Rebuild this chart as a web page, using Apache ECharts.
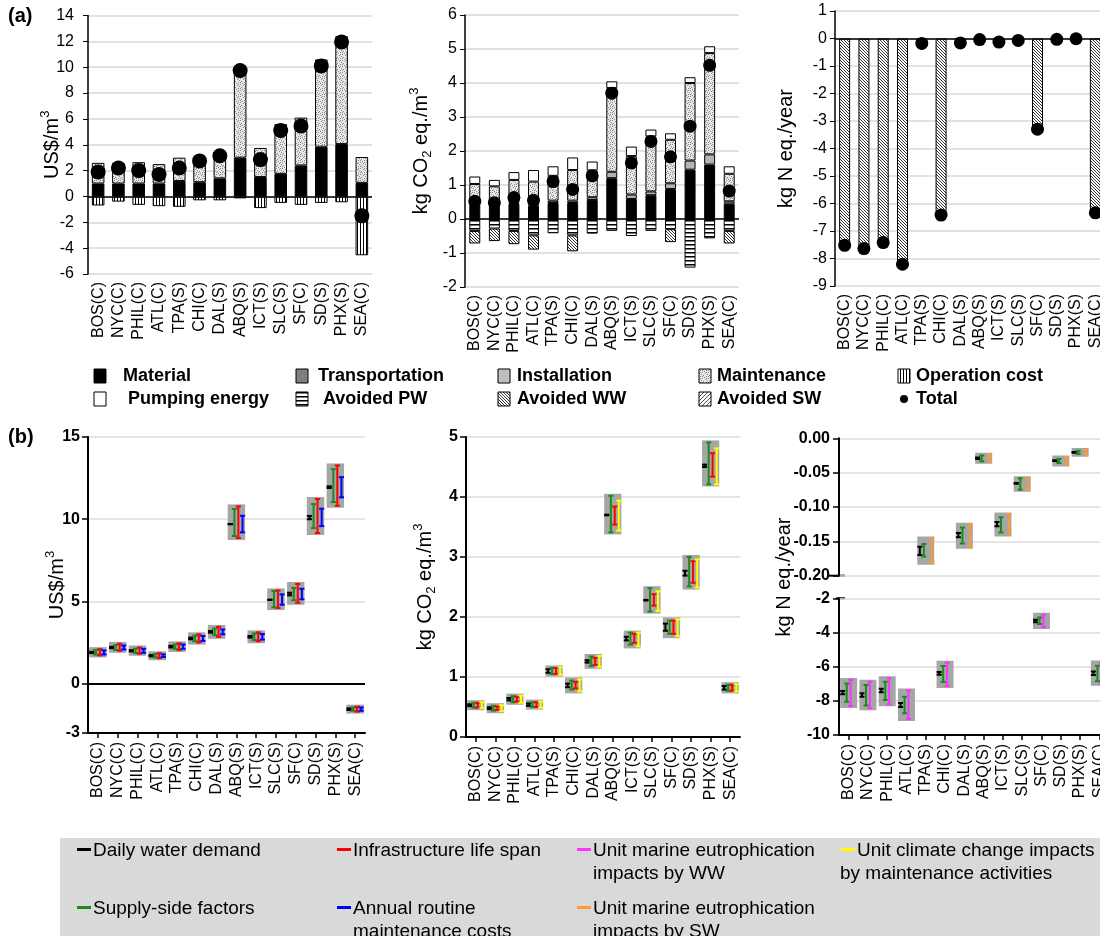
<!DOCTYPE html>
<html><head><meta charset="utf-8">
<script src="https://cdn.jsdelivr.net/npm/echarts@6/dist/echarts.min.js"></script>
<style>html,body{margin:0;padding:0;background:#fff}#c{width:1100px;height:936px}</style>
</head><body><div id="c"></div>
<script>
const cities = ['BOS(C)','NYC(C)','PHIL(C)','ATL(C)','TPA(S)','CHI(C)','DAL(S)','ABQ(S)','ICT(S)','SLC(S)','SF(C)','SD(S)','PHX(S)','SEA(C)'];

// (a) cost, US$/m3
const costMaterial    = [1.0,1.0,1.0,1.0,1.2,1.1,1.4,3.0,1.5,1.75,2.4,3.85,4.05,1.05];
const costMaintenance = [1.6,1.6,1.65,1.5,1.8,1.95,2.05,6.95,2.25,3.85,3.7,6.75,8.35,2.0];
const costOperation   = [-0.7,-0.4,-0.65,-0.75,-0.8,-0.3,-0.3,-0.15,-0.9,-0.5,-0.65,-0.5,-0.45,-4.55];
const costTotal       = [1.9,2.2,2.0,1.7,2.2,2.75,3.15,9.75,2.85,5.1,5.45,10.1,11.95,-1.5];

// (a) climate change, kg CO2 eq./m3
const ghgMaterial     = [0.42,0.4,0.44,0.4,0.47,0.47,0.56,1.2,0.59,0.7,0.88,1.45,1.6,0.45];
const ghgInstallation = [0.05,0.05,0.05,0.05,0.07,0.07,0.08,0.19,0.13,0.11,0.17,0.27,0.3,0.07];
const ghgMaintenance  = [0.56,0.51,0.66,0.65,0.73,0.9,0.79,2.46,1.13,1.62,1.28,2.28,2.98,0.81];
const ghgPumping      = [0.22,0.19,0.23,0.34,0.28,0.37,0.26,0.2,0.28,0.2,0.19,0.17,0.2,0.22];
const ghgAvoidedPW    = [-0.35,-0.28,-0.35,-0.48,-0.42,-0.48,-0.43,-0.35,-0.5,-0.35,-0.3,-1.43,-0.57,-0.35];
const ghgAvoidedWW    = [-0.37,-0.37,-0.39,-0.42,null,-0.47,null,null,null,null,-0.38,null,null,-0.37];
const ghgTotal        = [0.52,0.48,0.63,0.55,1.1,0.87,1.27,3.7,1.65,2.28,1.83,2.73,4.52,0.82];

// (a) marine eutrophication, kg N eq./year
const eutAvoidedWW = [-7.52,-7.64,-7.42,-8.21,null,-6.42,null,null,null,null,-3.3,null,null,-6.34];
const eutAvoidedSW = [null,null,null,null,-0.18,null,-0.16,-0.04,-0.13,-0.07,null,-0.03,-0.01,null];
const eutTotal     = [-7.52,-7.64,-7.42,-8.21,-0.18,-6.42,-0.16,-0.04,-0.13,-0.07,-3.3,-0.03,-0.01,-6.34];

// (b) sensitivity ranges [low, high]
const costDemand = [[1.86,1.94],[2.16,2.24],[1.96,2.04],[1.66,1.74],[2.2,2.3],[2.7,2.8],[3.1,3.2],[9.69,9.71],[2.8,2.9],[5.09,5.11],[5.37,5.53],[10.0,10.2],[11.9,12.0],[-1.6,-1.5]];
const costSupply = [[1.77,2.05],[2.05,2.35],[1.87,2.13],[1.6,1.8],[2.12,2.38],[2.58,2.92],[2.95,3.35],[8.98,10.62],[2.65,3.05],[4.64,5.63],[5.07,5.82],[9.46,10.92],[11.04,13.05],[-1.65,-1.45]];
const costLife   = [[1.72,2.1],[2.0,2.42],[1.82,2.2],[1.55,1.85],[2.05,2.45],[2.5,3.0],[2.85,3.45],[8.86,10.78],[2.58,3.12],[4.6,5.67],[4.92,6.06],[9.16,11.23],[10.82,13.27],[-1.7,-1.4]];
const costMaint  = [[1.78,2.02],[2.08,2.32],[1.88,2.12],[1.62,1.78],[2.12,2.38],[2.6,2.9],[3.0,3.3],[9.2,10.21],[2.68,3.02],[4.8,5.43],[5.13,5.77],[9.58,10.64],[11.33,12.56],[-1.65,-1.45]];

const ghgDemand  = [[0.515,0.545],[0.465,0.495],[0.61,0.65],[0.52,0.56],[1.07,1.13],[0.83,0.89],[1.24,1.28],[3.695,3.705],[1.61,1.67],[2.275,2.285],[1.77,1.89],[2.69,2.77],[4.5,4.54],[0.79,0.85]];
const ghgSupply  = [[0.49,0.57],[0.44,0.52],[0.58,0.68],[0.5,0.58],[1.05,1.15],[0.79,0.94],[1.18,1.34],[3.41,4.02],[1.54,1.74],[2.09,2.48],[1.72,1.94],[2.51,3.0],[4.21,4.91],[0.77,0.87]];
const ghgLife    = [[0.49,0.57],[0.45,0.51],[0.59,0.67],[0.5,0.58],[1.05,1.15],[0.81,0.92],[1.2,1.32],[3.54,3.84],[1.57,1.72],[2.19,2.38],[1.72,1.94],[2.57,2.93],[4.34,4.73],[0.77,0.87]];
const ghgClimate = [[0.48,0.58],[0.43,0.53],[0.57,0.69],[0.49,0.59],[1.04,1.16],[0.76,0.96],[1.17,1.35],[3.44,3.94],[1.51,1.74],[2.1,2.43],[1.68,1.96],[2.49,2.96],[4.21,4.81],[0.76,0.88]];

const eutDemand = [[-7.62,-7.42],[-7.76,-7.56],[-7.5,-7.3],[-8.36,-8.12],[-0.17,-0.158],[-6.47,-6.31],[-0.144,-0.138],[-0.03,-0.028],[-0.128,-0.122],[-0.066,-0.065],[-3.4,-3.26],[-0.033,-0.032],[-0.021,-0.020],[-6.49,-6.29]];
const eutSupply = [[-8.05,-6.98],[-8.28,-7.07],[-7.95,-6.88],[-8.73,-7.76],[-0.172,-0.154],[-6.9,-5.96],[-0.153,-0.13],[-0.0335,-0.025],[-0.137,-0.115],[-0.075,-0.058],[-3.5,-3.13],[-0.036,-0.03],[-0.023,-0.018],[-6.85,-5.95]];
const eutWW     = [[-8.3,-6.78],[-8.44,-6.88],[-8.2,-6.68],[-9.06,-7.4],null,[-7.13,-5.77],null,null,null,null,[-3.68,-2.96],null,null,[-7.0,-5.75]];
const eutSW     = [null,null,null,null,[-0.181,-0.146],null,[-0.158,-0.126],[-0.034,-0.024],[-0.14,-0.111],[-0.075,-0.058],null,[-0.038,-0.028],[-0.024,-0.017],null];

const FF = 'Liberation Sans, Arial, sans-serif';

function pat(w, h, draw) {
  const c = document.createElement('canvas'); c.width = w; c.height = h;
  const g = c.getContext('2d'); draw(g); return {image: c, repeat: 'repeat'};
}
// stipple texture for maintenance
const maintPat = pat(6, 6, g => { g.fillStyle = '#e8e8e8'; g.fillRect(0,0,6,6); g.fillStyle = '#888';
  [[0,0],[3,1],[5,2],[1,3],[4,4],[2,5],[0,4],[4,0]].forEach(([x,y]) => g.fillRect(x,y,1,1)); });
const opPat = pat(3, 1, g => { g.fillStyle = '#fff'; g.fillRect(0,0,3,1); g.fillStyle = '#000'; g.fillRect(0,0,1,1); });
const pwPat = pat(1, 4, g => { g.fillStyle = '#fff'; g.fillRect(0,0,1,4); g.fillStyle = '#000'; g.fillRect(0,0,1,1); g.fillStyle = '#777'; g.fillRect(0,1,1,1); });
const wwPat = pat(3, 3, g => { g.fillStyle = '#fff'; g.fillRect(0,0,3,3); g.fillStyle = '#333'; for (let i=0;i<3;i++) g.fillRect(i,i,1,1); });
const swPat = pat(4, 4, g => { g.fillStyle = '#fff'; g.fillRect(0,0,4,4); g.fillStyle = '#555'; for (let i=0;i<4;i++) g.fillRect(3-i,i,1,1); });

const zeroLine = w => ({silent:true, symbol:['none','none'], label:{show:false}, lineStyle:{color:'#000', width:w, type:'solid'}, data:[{yAxis:0}]});

function bar(name, gi, data, color, stack, bw, extra) {
  return Object.assign({type:'bar', name, xAxisIndex:gi, yAxisIndex:gi, stack, data, barWidth:bw,
    itemStyle:{color, borderColor:'#000', borderWidth:1}}, extra || {});
}
function total(gi, data, size) {
  return {type:'scatter', name:'Total', xAxisIndex:gi, yAxisIndex:gi, data, symbolSize:size, z:5,
    itemStyle:{color:'#000', opacity:1}};
}
function boxSeries(gi, ranges, extra) {
  const data = cities.map((c, i) => {
    const r = ranges.map(a => a[i]).filter(Boolean);
    return [i, Math.min(...r.map(v => v[0])), Math.max(...r.map(v => v[1]))];
  });
  return Object.assign({type:'custom', xAxisIndex:gi, yAxisIndex:gi, clip:true, data, encode:{x:0, y:[1,2]},
    renderItem: (p, api) => {
      const i = api.value(0), lo = api.coord([i, api.value(1)]), hi = api.coord([i, api.value(2)]);
      const band = api.size([1, 0])[0], hw = 0.44 * band;
      return {type:'rect', shape:{x:lo[0]-hw, y:hi[1]-2, width:2*hw, height:lo[1]-hi[1]+4}, style:{fill:'#a6a6a6'}};
    }}, extra || {});
}
function errSeries(name, gi, ranges, slot, color) {
  const data = [];
  ranges.forEach((r, i) => { if (r) data.push([i, r[0], r[1]]); });
  return {type:'custom', name, xAxisIndex:gi, yAxisIndex:gi, clip:true, data, encode:{x:0, y:[1,2]}, z:3,
    renderItem: (p, api) => {
      const i = api.value(0), lo = api.coord([i, api.value(1)]), hi = api.coord([i, api.value(2)]);
      const band = api.size([1, 0])[0], x = lo[0] + slot * band, cw = 0.13 * band;
      const st = {stroke: color, lineWidth: 2};
      return {type:'group', children:[
        {type:'line', shape:{x1:x, y1:lo[1], x2:x, y2:hi[1]}, style:st},
        {type:'line', shape:{x1:x-cw, y1:lo[1], x2:x+cw, y2:lo[1]}, style:st},
        {type:'line', shape:{x1:x-cw, y1:hi[1], x2:x+cw, y2:hi[1]}, style:st}
      ]};
    }};
}

const grids = [
  {left:88, top:15.5, width:284, height:258.5},
  {left:465, top:15, width:274, height:272},
  {left:835, top:11, width:270, height:275},
  {left:88, top:437, width:277, height:296},
  {left:466, top:437, width:274, height:300},
  {left:839, top:438.3, width:270, height:137.4},
  {left:839, top:598.3, width:270, height:136.7}
].map(g => Object.assign({containLabel:false, outerBoundsMode:'none'}, g));

const xa = gi => ({type:'category', gridIndex:gi, data:cities,
  axisLine:{show:false, onZero:false}, axisTick:{show:false},
  axisLabel:{rotate:90, interval:0, fontSize:16, color:'#000', margin:8, fontFamily:FF}});
const xb = gi => ({type:'category', gridIndex:gi, data:cities,
  axisLine:{show:true, onZero:false, lineStyle:{color:'#000', width:2}},
  axisTick:{show:true, alignWithLabel:true, length:5, lineStyle:{color:'#000', width:1.5}},
  axisLabel:{rotate:90, interval:0, fontSize:16, color:'#000', margin:9, fontFamily:FF}});

const richName = {
  n:{fontSize:20, fontFamily:FF, color:'#000', lineHeight:26},
  sup:{fontSize:13, fontFamily:FF, color:'#000', verticalAlign:'top', lineHeight:14},
  sub:{fontSize:13, fontFamily:FF, color:'#000', verticalAlign:'bottom', lineHeight:14}
};
const ya = (gi, min, max, interval, name, gap, margin) => ({type:'value', gridIndex:gi, min, max, interval,
  axisLine:{show:true, lineStyle:{color:'#000', width:1.5}},
  axisTick:{show:true, length:5, lineStyle:{color:'#000'}},
  axisLabel:{fontSize:16, color:'#000', margin, fontFamily:FF},
  splitLine:{show:true, lineStyle:{color:'#d9d9d9', width:1.5}},
  name, nameLocation:'middle', nameRotate:90, nameGap:gap, nameMoveOverlap:false,
  nameTextStyle:{fontSize:20, fontFamily:FF, color:'#000', rich:richName}});
const yb = (gi, cfg) => Object.assign({type:'value', gridIndex:gi,
  axisLine:{show:true, lineStyle:{color:'#000', width:2}},
  axisTick:{show:true, length:6, lineStyle:{color:'#000', width:1.5}},
  axisLabel:{fontSize:16, fontWeight:'bold', color:'#000', margin:8, fontFamily:FF},
  splitLine:{show:true, lineStyle:{color:'#dcdcdc', width:1.5}},
  nameLocation:'middle', nameRotate:90, nameMoveOverlap:false,
  nameTextStyle:{fontSize:20, fontFamily:FF, color:'#000', rich:richName}}, cfg);

const series = [
  // (a) cost
  bar('Material', 0, costMaterial, '#000', 'c', '62%', {markLine: zeroLine(1.5)}),
  bar('Maintenance', 0, costMaintenance, maintPat, 'c', '62%'),
  bar('Operation cost', 0, costOperation, opPat, 'c', '62%'),
  total(0, costTotal, 15),
  // (a) GHG
  bar('Material', 1, ghgMaterial, '#000', 'g', '56%', {markLine: zeroLine(1.5)}),
  bar('Installation', 1, ghgInstallation, '#b3b3b3', 'g', '56%'),
  bar('Maintenance', 1, ghgMaintenance, maintPat, 'g', '56%'),
  bar('Pumping energy', 1, ghgPumping, '#fff', 'g', '56%'),
  bar('Avoided PW', 1, ghgAvoidedPW, pwPat, 'g', '56%'),
  bar('Avoided WW', 1, ghgAvoidedWW, wwPat, 'g', '56%'),
  total(1, ghgTotal, 13),
  // (a) eutrophication
  bar('Avoided WW', 2, eutAvoidedWW, wwPat, 'e', '57%', {markLine: zeroLine(1.5)}),
  bar('Avoided SW', 2, eutAvoidedSW, swPat, 'e', '57%'),
  total(2, eutTotal, 13),
  // (b) cost
  boxSeries(3, [costDemand, costSupply, costLife, costMaint], {markLine: zeroLine(2)}),
  errSeries('Daily water demand', 3, costDemand, -0.31, '#000'),
  errSeries('Supply-side factors', 3, costSupply, -0.1, '#1a8c1a'),
  errSeries('Infrastructure life span', 3, costLife, 0.1, '#ff0000'),
  errSeries('Annual routine maintenance costs', 3, costMaint, 0.31, '#0000ff'),
  // (b) GHG
  boxSeries(4, [ghgDemand, ghgSupply, ghgLife, ghgClimate]),
  errSeries('Daily water demand', 4, ghgDemand, -0.31, '#000'),
  errSeries('Supply-side factors', 4, ghgSupply, -0.1, '#1a8c1a'),
  errSeries('Infrastructure life span', 4, ghgLife, 0.1, '#ff0000'),
  errSeries('Unit climate change impacts by maintenance activities', 4, ghgClimate, 0.31, '#ffff00')
];
[5, 6].forEach(gi => {
  series.push(boxSeries(gi, [eutDemand, eutSupply, eutWW, eutSW]));
  series.push(errSeries('Daily water demand', gi, eutDemand, -0.31, '#000'));
  series.push(errSeries('Supply-side factors', gi, eutSupply, -0.1, '#1a8c1a'));
  series.push(errSeries('Unit marine eutrophication impacts by WW', gi, eutWW, 0.1, '#ff33ff'));
  series.push(errSeries('Unit marine eutrophication impacts by SW', gi, eutSW, 0.31, '#ff9933'));
});

// legends as graphic
const graphic = [
  {type:'text', left:8, top:6, style:{text:'(a)', font:'bold 20px '+FF, fill:'#000'}},
  {type:'text', left:8, top:427, style:{text:'(b)', font:'bold 20px '+FF, fill:'#000'}},
  {type:'text', x:784, y:577, rotation:Math.PI/2, style:{text:'kg N eq./year', font:'20px '+FF, fill:'#000', align:'center', verticalAlign:'middle'}}
];
const legA = [
  ['Material', '#000', 94, 376, 123], ['Transportation', '#7f7f7f', 296, 376, 318],
  ['Installation', '#bfbfbf', 498, 376, 517], ['Maintenance', maintPat, 699, 376, 717],
  ['Operation cost', opPat, 898, 376, 916],
  ['Pumping energy', '#fff', 94, 399, 128], ['Avoided PW', pwPat, 296, 399, 323],
  ['Avoided WW', wwPat, 498, 399, 517], ['Avoided SW', swPat, 699, 399, 717]
];
legA.forEach(([t, f, x, y, tx]) => {
  graphic.push({type:'rect', shape:{x, y:y-7, width:12, height:14}, style:{fill:f, stroke:'#000', lineWidth:1}});
  graphic.push({type:'text', x:tx, y, style:{text:t, font:'bold 18px '+FF, fill:'#000', verticalAlign:'middle'}});
});
graphic.push({type:'circle', shape:{cx:904, cy:399, r:4}, style:{fill:'#000'}});
graphic.push({type:'text', x:916, y:399, style:{text:'Total', font:'bold 18px '+FF, fill:'#000', verticalAlign:'middle'}});

graphic.push({type:'rect', shape:{x:60, y:838, width:1040, height:98}, style:{fill:'#d9d9d9'}, z:-10});
const legB = [
  ['#000', 77, 851, ['Daily water demand'], 92],
  ['#ff0000', 337, 851, ['Infrastructure life span'], 353],
  ['#ff33ff', 577, 851, ['Unit marine eutrophication', 'impacts by WW'], 593],
  ['#ffff00', 841, 851, ['Unit climate change impacts', 'by maintenance activities'], 840],
  ['#1a8c1a', 77, 909, ['Supply-side factors'], 92],
  ['#0000ff', 337, 909, ['Annual routine', 'maintenance costs'], 353],
  ['#ff9933', 577, 909, ['Unit marine eutrophication', 'impacts by SW'], 593]
];
legB.forEach(([c, x, y, lines, x2]) => {
  graphic.push({type:'rect', shape:{x, y:y-3, width:14, height:3}, style:{fill:c}});
  graphic.push({type:'text', x:x+16, y, style:{text:lines[0], font:'19px '+FF, fill:'#000', verticalAlign:'middle'}});
  if (lines[1]) graphic.push({type:'text', x:x2, y:y+23, style:{text:lines[1], font:'19px '+FF, fill:'#000', verticalAlign:'middle'}});
});

const option = {
  animation:false,
  textStyle:{fontFamily:FF, color:'#000'},
  grid:grids,
  xAxis:[xa(0), xa(1), xa(2), xb(3), xb(4), Object.assign(xb(5), {show:false}), xb(6)],
  yAxis:[
    ya(0, -6, 14, 2, '{n|US$/m}{sup|3}', 23, 14),
    ya(1, -2, 6, 1, '{n|kg CO}{sub|2}{n| eq./m}{sup|3}', 31, 8),
    ya(2, -9, 1, 1, '{n|kg N eq./year}', 36, 8),
    yb(3, {min:-3, max:15, splitNumber:4, name:'{n|US$/m}{sup|3}', nameGap:18}),
    yb(4, {min:0, max:5, interval:1, name:'{n|kg CO}{sub|2}{n| eq./m}{sup|3}', nameGap:28}),
    yb(5, {min:-0.2, max:0, interval:0.05, axisLabel:{fontSize:16, fontWeight:'bold', color:'#000', margin:9, fontFamily:FF, formatter: v => v.toFixed(2)}}),
    yb(6, {min:-10, max:-2, interval:2, axisLabel:{fontSize:16, fontWeight:'bold', color:'#000', margin:9, fontFamily:FF}})
  ],
  series,
  graphic
};

const chart = echarts.init(document.getElementById('c'), null, {renderer:'canvas'});
chart.setOption(option);

// axis-break marks on the split (b) eutrophication axis
const p0 = chart.convertToPixel({gridIndex:5}, [0, -0.2]);
const p1 = chart.convertToPixel({gridIndex:5}, [1, -0.2]);
const q0 = chart.convertToPixel({gridIndex:6}, [0, -2]);
const axX = p0[0] - (p1[0] - p0[0]) / 2;
chart.setOption({graphic: graphic.concat([
  {type:'line', shape:{x1:axX-10, y1:p0[1], x2:axX+6, y2:p0[1]}, style:{stroke:'#000', lineWidth:2}},
  {type:'line', shape:{x1:axX-3, y1:q0[1], x2:axX+6, y2:q0[1]}, style:{stroke:'#000', lineWidth:2}}
])});
</script>
</body></html>
